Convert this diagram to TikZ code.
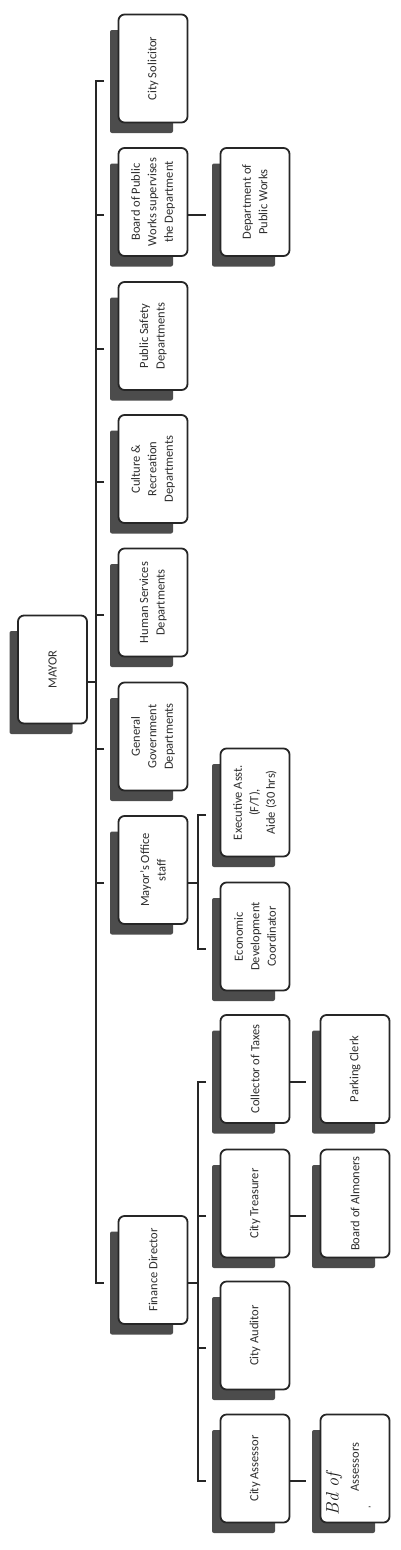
\documentclass[tikz,border=0pt]{standalone}
\usepackage{fontspec}
\setmainfont{Carlito}
\usetikzlibrary{calc}
\newcommand\obox[4]{%
  \fill[shadowfill] (#2-43,#3-38.5) rectangle (#2+20,#3+64.5);
  \node[orgbox] (#1) at (#2,#3) {#4};
  \pgfmathsetmacro\myconny{round(#3+12.5)}%
  \coordinate (#1-l) at (#2-49,\myconny);
  \coordinate (#1-r) at (#2+35,\myconny);
}
\begin{document}
\begin{tikzpicture}[x=1pt,y=-1pt,
  orgbox/.style={draw=black!85, line width=1.8pt, fill=white, rounded corners=6pt,
    rotate=90, minimum width=108pt, minimum height=69pt, inner sep=2pt,
    align=center, font=\fontsize{12.5}{16.5}\selectfont, text=black!82},
  shadowfill/.style={fill=black!70, rounded corners=2pt},
  conn/.style={draw=black!85, line width=2pt},
  plain/.style={rotate=90, inner sep=0pt, text=black!82}]
\useasboundingbox[fill=white] (0,0) rectangle (400,1550);
% mayor
\obox{mayor}{52.5}{669.5}{MAYOR}
% first column
\obox{sol}{153}{68.5}{City Solicitor}
\obox{bpw}{153}{202}{Board of Public\\Works supervises\\the Department}
\obox{ps}{153}{336}{Public Safety\\Departments}
\obox{cr}{153}{469}{Culture \&\\Recreation\\Departments}
\obox{hs}{153}{602.5}{Human Services\\Departments}
\obox{gg}{153}{736.5}{General\\Government\\Departments}
\obox{mo}{153}{870}{Mayor's Office\\staff}
\obox{fd}{153}{1270}{Finance Director}
% second column
\obox{dpw}{255}{202}{Department of\\Public Works}
\obox{ea}{255}{802.5}{Executive Asst.\\(F/T),\\Aide (30 hrs)}
\obox{ed}{255}{936.5}{Economic\\Development\\Coordinator}
\obox{ct}{255}{1069}{Collector of Taxes}
\obox{tr}{255}{1203.5}{City Treasurer}
\obox{au}{255}{1335.5}{City Auditor}
\obox{as}{255}{1468.5}{City Assessor}
% third column
\obox{pc}{355}{1069}{Parking Clerk}
\obox{ba}{355}{1203.5}{Board of Almoners}
\obox{bda}{355}{1468.5}{}
\node[plain, font=\fontfamily{lmr}\itshape\fontsize{18}{18}\selectfont, text=black!90] (bdof) at (334,1494) {Bd of};
\node[plain, font=\fontsize{12.5}{14}\selectfont] (bdass) at (355,1467) {Assessors};
\node[plain, font=\fontsize{10}{10}\selectfont] (bdcomma) at (370,1507) {,};
% connectors
\draw[conn] (mayor-r) -- ++(9,0);
\draw[conn] (sol-l) -- ++(-8,0) |- (fd-l);
\foreach \n in {bpw,ps,cr,hs,gg,mo} \draw[conn] (\n-l) -- ++(-8,0);
\draw[conn] (mo-r) -- ++(10,0);
\draw[conn] (ea-l) -- ++(-8,0) |- (ed-l);
\draw[conn] (fd-r) -- ++(10,0);
\draw[conn] (ct-l) -- ++(-8,0) |- (as-l);
\foreach \n in {tr,au} \draw[conn] (\n-l) -- ++(-8,0);
\draw[conn] (bpw-r) -- (dpw-l);
\draw[conn] (ct-r) -- (pc-l);
\draw[conn] (tr-r) -- (ba-l);
\draw[conn] (as-r) -- (bda-l);
\end{tikzpicture}
\end{document}
